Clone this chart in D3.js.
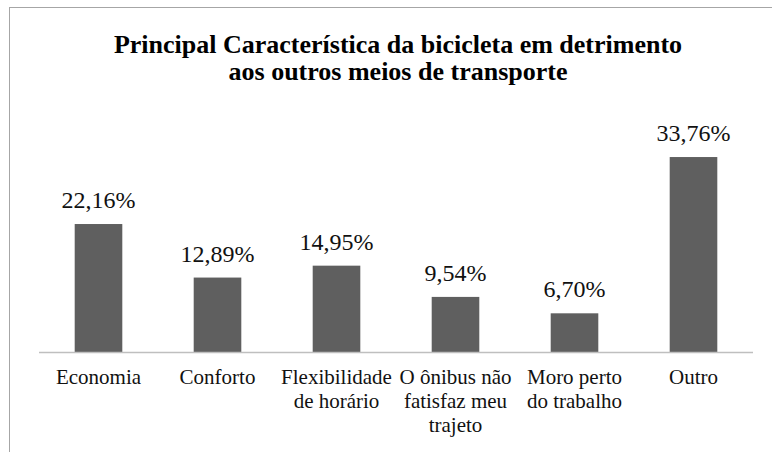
<!DOCTYPE html>
<html>
<head>
<meta charset="utf-8">
<script src="https://cdn.jsdelivr.net/npm/d3@7"></script>
<style>
  svg text { font-family: 'Liberation Serif', 'Times New Roman', Tinos, serif !important; }
</style>
</head>
<body style="margin:0">
<svg id="chart" width="772" height="452"></svg>
<script>
// chart data
const categories = [
  ['Economia'],
  ['Conforto'],
  ['Flexibilidade', 'de horário'],
  ['O ônibus não', 'fatisfaz meu', 'trajeto'],
  ['Moro perto', 'do trabalho'],
  ['Outro']
];
const values = [22.16, 12.89, 14.95, 9.54, 6.70, 33.76];
const titleLines = ['Principal Característica da bicicleta em detrimento', 'aos outros meios de transporte'];

const FONT = "'Liberation Serif'";
const svg = d3.select('#chart');

// outer chart border, cut off on the right and bottom like the picture
svg.append('rect')
  .attr('x', 9.5).attr('y', 7.5)
  .attr('width', 900).attr('height', 600)
  .attr('fill', 'none')
  .attr('stroke', '#a6a6a6');

const x = d3.scaleBand()
  .domain(d3.range(values.length))
  .range([39, 753])
  .paddingInner(0.6)
  .paddingOuter(0.3);

const y = d3.scaleLinear()
  .domain([0, 40])
  .range([352, 121]);

// title
svg.selectAll(null)
  .data(titleLines)
  .enter()
  .append('text')
  .attr('x', 398)
  .attr('y', (d, i) => 53 + i * 27)
  .attr('text-anchor', 'middle')
  .attr('font-size', 26)
  .style('font-family', d => FONT)
  .style('font-weight', 'bold')
  .text(d => d);

// bars
svg.selectAll(null)
  .data(values)
  .enter()
  .append('rect')
  .attr('x', (d, i) => x(i))
  .attr('y', d => y(d))
  .attr('width', x.bandwidth())
  .attr('height', d => y(0) - y(d))
  .attr('fill', '#5f5f5f');

// baseline axis
svg.append('line')
  .attr('x1', 39).attr('x2', 753)
  .attr('y1', y(0) + 0.5).attr('y2', y(0) + 0.5)
  .attr('stroke', '#bfbfbf')
  .attr('stroke-width', 1.5);

// value labels
svg.selectAll(null)
  .data(values)
  .enter()
  .append('text')
  .attr('x', (d, i) => x(i) + x.bandwidth() / 2)
  .attr('y', d => y(d) - 16)
  .attr('text-anchor', 'middle')
  .attr('font-size', 24)
  .style('font-family', d => FONT)
  .attr('fill', '#111')
  .text(d => d.toFixed(2).replace('.', ',') + '%');

// category labels, one text per line
const catLines = categories.flatMap((lines, i) => lines.map((t, j) => ({ t, i, j })));
svg.selectAll(null)
  .data(catLines)
  .enter()
  .append('text')
  .attr('x', d => x(d.i) + x.bandwidth() / 2)
  .attr('y', d => 384 + d.j * 24)
  .attr('text-anchor', 'middle')
  .attr('font-size', 21)
  .style('font-family', d => FONT)
  .attr('fill', '#111')
  .text(d => d.t);
</script>
</body>
</html>
